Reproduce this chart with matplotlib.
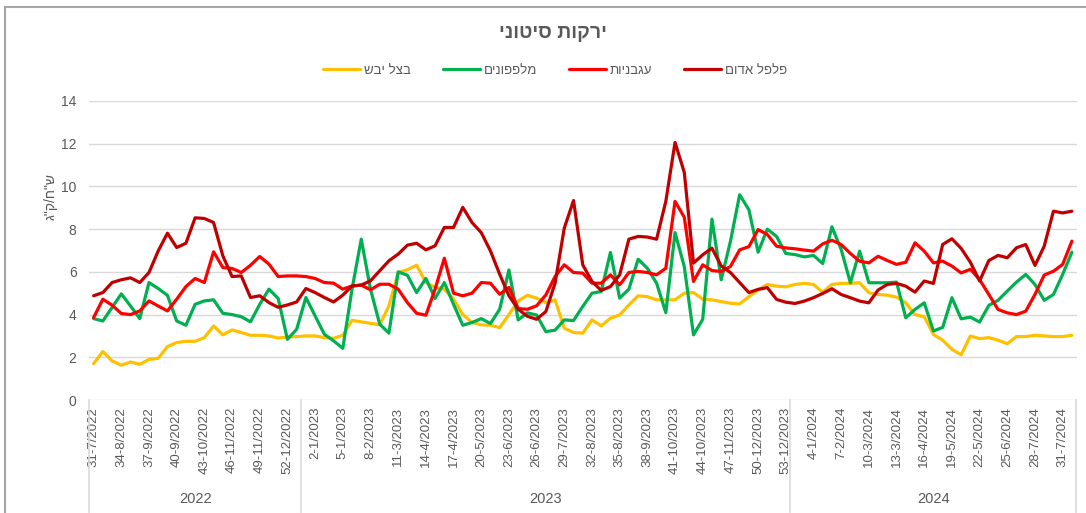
import numpy as np
import matplotlib
matplotlib.use("Agg")
import matplotlib.pyplot as plt
from matplotlib.lines import Line2D
import matplotlib.transforms as mtransforms

plt.rcParams['font.family'] = ['Liberation Sans', 'DejaVu Sans']

# weekly wholesale prices, 31/2022 .. 32/2024 (NIS per kg)
onion = [1.7, 2.27, 1.83, 1.63, 1.78, 1.67, 1.9, 1.95, 2.5, 2.69, 2.75, 2.75, 2.92, 3.47, 3.05, 3.28, 3.16, 3.03, 3.03, 3.0, 2.9, 2.95, 2.97,
         3.0, 3.0, 2.92, 2.89, 3.03, 3.73, 3.66, 3.59, 3.52, 4.41, 5.97, 6.1, 6.31, 5.5, 5.27, 5.19, 4.72, 4.0, 3.63, 3.52, 3.5, 3.39, 4.0, 4.64, 4.9,
         4.77, 4.56, 4.69, 3.36, 3.16, 3.13, 3.75, 3.47, 3.83, 3.98, 4.45, 4.88, 4.84, 4.69, 4.69, 4.69, 5.0, 5.03, 4.72, 4.69, 4.61, 4.53, 4.5, 4.84,
         5.15, 5.41, 5.33, 5.3, 5.41, 5.46, 5.41, 5.05, 5.41, 5.46, 5.46, 5.49, 5.02, 4.94, 4.91, 4.82, 4.55, 4.0, 3.9, 3.07, 2.8, 2.37, 2.12, 3.0,
         2.87, 2.92, 2.8, 2.64, 2.97, 2.97, 3.03, 3.0, 2.97, 2.97, 3.03]
cucumber = [3.81, 3.7, 4.33, 4.97, 4.4, 3.81, 5.5, 5.22, 4.9, 3.7, 3.5, 4.48, 4.64, 4.69, 4.06, 4.0, 3.9, 3.66, 4.48, 5.19, 4.75, 2.84, 3.31,
            4.8, 3.94, 3.08, 2.77, 2.42, 5.19, 7.53, 5.19, 3.55, 3.13, 6.0, 5.84, 5.03, 5.69, 4.75, 5.5, 4.48, 3.5, 3.63, 3.81, 3.58, 4.25, 6.09, 3.75, 4.08,
            3.98, 3.2, 3.27, 3.75, 3.72, 4.38, 5.0, 5.08, 6.91, 4.77, 5.19, 6.59, 6.17, 5.47, 4.09, 7.84, 6.25, 3.05, 3.78, 8.47, 5.63, 7.42, 9.61, 8.91,
            6.92, 8.0, 7.66, 6.86, 6.81, 6.7, 6.77, 6.39, 8.11, 7.05, 5.49, 6.97, 5.49, 5.49, 5.49, 5.52, 3.85, 4.24, 4.55, 3.23, 3.4, 4.79, 3.8, 3.88,
            3.65, 4.43, 4.67, 5.1, 5.52, 5.88, 5.41, 4.67, 4.94, 5.88, 6.92]
tomato = [3.86, 4.72, 4.44, 4.05, 4.0, 4.17, 4.64, 4.4, 4.17, 4.72, 5.31, 5.69, 5.5, 6.94, 6.2, 6.16, 5.97, 6.31, 6.72, 6.36, 5.78, 5.81, 5.81,
          5.78, 5.69, 5.5, 5.47, 5.19, 5.34, 5.38, 5.16, 5.42, 5.42, 5.19, 4.56, 4.06, 3.97, 5.19, 6.64, 5.0, 4.88, 5.0, 5.5, 5.47, 4.95, 5.27, 4.28, 4.25,
          4.41, 4.92, 5.78, 6.33, 5.97, 5.94, 5.47, 5.47, 5.86, 5.39, 5.97, 6.02, 5.97, 5.86, 6.17, 9.3, 8.56, 5.55, 6.33, 6.06, 6.02, 6.25, 7.03, 7.18,
          7.98, 7.75, 7.2, 7.12, 7.08, 7.02, 6.97, 7.31, 7.48, 7.28, 6.86, 6.5, 6.42, 6.73, 6.53, 6.35, 6.45, 7.36, 6.97, 6.42, 6.5, 6.27, 5.95, 6.12,
          5.64, 4.94, 4.24, 4.08, 4.0, 4.16, 4.94, 5.85, 6.03, 6.35, 7.44]
red_pepper = [4.88, 5.03, 5.5, 5.63, 5.72, 5.5, 5.97, 6.98, 7.81, 7.14, 7.34, 8.53, 8.5, 8.31, 6.75, 5.78, 5.81, 4.8, 4.88, 4.56, 4.34, 4.45, 4.59,
              5.22, 5.03, 4.8, 4.59, 4.91, 5.34, 5.38, 5.58, 6.05, 6.52, 6.83, 7.25, 7.34, 7.03, 7.22, 8.08, 8.08, 9.02, 8.31, 7.84, 6.98, 5.89, 4.88, 4.25, 3.92,
              3.78, 4.14, 5.47, 8.05, 9.34, 6.33, 5.55, 5.13, 5.31, 5.86, 7.53, 7.66, 7.63, 7.53, 9.3, 12.06, 10.66, 6.41, 6.8, 7.11, 6.28, 5.97, 5.5, 5.03,
              5.18, 5.26, 4.71, 4.58, 4.52, 4.63, 4.79, 4.99, 5.21, 4.94, 4.79, 4.63, 4.55, 5.15, 5.41, 5.46, 5.33, 5.05, 5.57, 5.46, 7.28, 7.55, 7.1, 6.45,
              5.57, 6.53, 6.77, 6.66, 7.13, 7.28, 6.3, 7.2, 8.84, 8.76, 8.84]

tick_labels = ["31-7/2022", "34-8/2022", "37-9/2022", "40-9/2022", "43-10/2022", "46-11/2022", "49-11/2022", "52-12/2022",
               "2-1/2023", "5-1/2023", "8-2/2023", "11-3/2023", "14-4/2023", "17-4/2023", "20-5/2023", "23-6/2023",
               "26-6/2023", "29-7/2023", "32-8/2023", "35-8/2023", "38-9/2023", "41-10/2023", "44-10/2023", "47-11/2023",
               "50-12/2023", "53-12/2023",
               "4-1/2024", "7-2/2024", "10-3/2024", "13-3/2024", "16-4/2024", "19-5/2024", "22-5/2024", "25-6/2024",
               "28-7/2024", "31-7/2024"]
years = ["2022", "2023", "2024"]
weeks_per_year = [23, 53, 31]

names = ["בצל יבש", "מלפפונים", "עגבניות", "פלפל אדום"]
colors = ["#FFC000", "#00B050", "#FF0000", "#C00000"]


def rtl(s):
    # matplotlib has no bidi support, so draw hebrew in visual order
    return s[::-1]


grey = "#595959"
n = len(onion)
x = np.arange(n)

fig = plt.figure(figsize=(10.86, 5.13), dpi=100)
ax = fig.add_axes([89 / 1086, 113 / 513, 987.5 / 1086, 299 / 513])

for vals, name, col in zip([onion, cucumber, tomato, red_pepper], names, colors):
    ax.plot(x, vals, color=col, lw=2.3, label=rtl(name),
            solid_joinstyle="round", solid_capstyle="round")

ax.set_xlim(-0.5, n - 0.5)
ax.set_ylim(0, 14)
ax.set_yticks(np.arange(0, 15, 2))
ax.grid(axis="y", color="#D9D9D9", lw=1)
ax.set_axisbelow(True)
for sp in ax.spines.values():
    sp.set_visible(False)

ax.set_xticks(np.arange(0, 3 * len(tick_labels), 3))
ax.set_xticklabels(tick_labels, rotation=90, fontsize=9.5, color=grey)
ax.tick_params(axis="x", length=0, pad=5)
ax.tick_params(axis="y", length=0, pad=9, labelsize=10, labelcolor=grey)

# category axis boxes and year labels
trans = mtransforms.blended_transform_factory(ax.transData, ax.transAxes)
edges = np.concatenate([[0], np.cumsum(weeks_per_year)]) - 0.5
for e in edges:
    ax.plot([e, e], [0, -0.375], color="#D9D9D9", lw=1.2, transform=trans, clip_on=False)
for i, yr in enumerate(years):
    ax.text((edges[i] + edges[i + 1]) / 2, -0.33, yr, transform=trans,
            ha="center", va="center", fontsize=10.5, color=grey)

fig.text(51 / 1086, 1 - 197 / 513, rtl('ש"ח/ק"ג'), rotation=90, ha="center", va="center",
         fontsize=10, color=grey)
fig.text(553 / 1086, 1 - 33 / 513, rtl("ירקות סיטוני"), ha="center", va="center",
         fontsize=14, fontweight="bold", color=grey)

fig.legend(loc="center", bbox_to_anchor=(555 / 1086, 1 - 71 / 513), ncol=4, frameon=False,
           fontsize=9.5, labelcolor=grey, handlelength=2.8, handletextpad=0.3,
           columnspacing=2.4)

# outer chart border
fig.add_artist(Line2D([5 / 1086, 1], [1 - 7 / 513, 1 - 7 / 513], color="#A6A6A6", lw=1.5))
fig.add_artist(Line2D([5 / 1086, 5 / 1086], [0, 1 - 7 / 513], color="#A6A6A6", lw=1.5))

fig.savefig("out.png", dpi=100)
